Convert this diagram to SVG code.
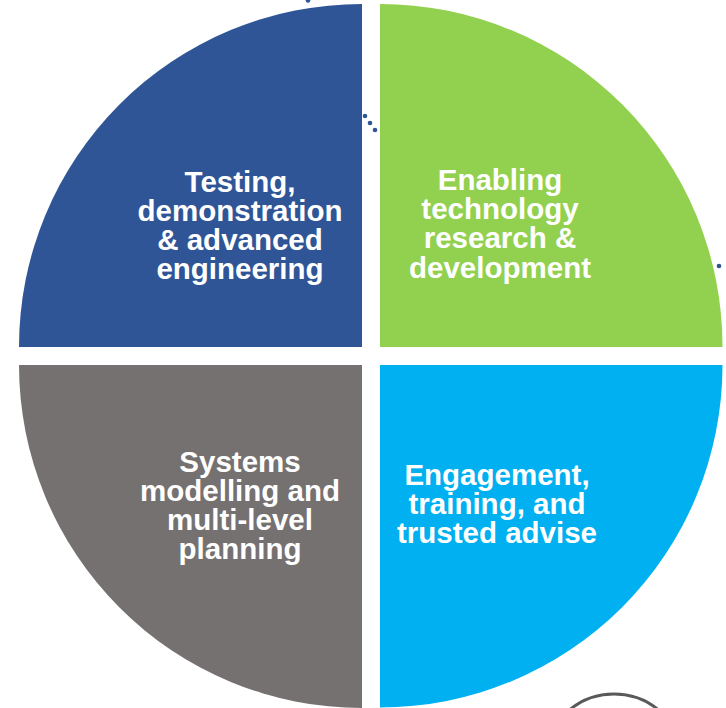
<svg xmlns="http://www.w3.org/2000/svg" width="726" height="708" viewBox="0 0 726 708">
  <style>
    .label { font-family: "Liberation Sans", Arial, sans-serif; font-weight: bold; font-size: 29.5px; fill: #FFFFFF; text-anchor: middle; }
    .dot { fill: #2F5597; }
  </style>
  <rect width="726" height="708" fill="#FFFFFF"/>

  <!-- quarter segments of the circle -->
  <g id="testing">
    <path d="M362,347 L19,347 A343,343 0 0 1 362,4 Z" fill="#2F5597"/>
    <text class="label" x="240" y="192">Testing,</text>
    <text class="label" x="240" y="221">demonstration</text>
    <text class="label" x="240" y="250">&amp; advanced</text>
    <text class="label" x="240" y="279">engineering</text>
  </g>

  <g id="enabling">
    <path d="M380,347 L380,4 A342.5,342.5 0 0 1 722.5,347 Z" fill="#92D050"/>
    <text class="label" x="500" y="190">Enabling</text>
    <text class="label" x="500" y="219">technology</text>
    <text class="label" x="500" y="248">research &amp;</text>
    <text class="label" x="500" y="278">development</text>
  </g>

  <g id="systems">
    <path d="M362,365 L362,708 A343,343 0 0 1 19,365 Z" fill="#767171"/>
    <text class="label" x="240" y="472">Systems</text>
    <text class="label" x="240" y="501">modelling and</text>
    <text class="label" x="240" y="530">multi-level</text>
    <text class="label" x="240" y="559">planning</text>
  </g>

  <g id="engagement">
    <path d="M380,365 L722.5,365 A342.5,342.5 0 0 1 380,707.5 Z" fill="#00B0F0"/>
    <text class="label" x="497" y="485">Engagement,</text>
    <text class="label" x="497" y="514">training, and</text>
    <text class="label" x="497" y="543">trusted advise</text>
  </g>

  <!-- small decorative dots -->
  <g id="dots">
    <circle class="dot" cx="308" cy="0.5" r="2.3"/>
    <circle class="dot" cx="365" cy="116" r="2.3"/>
    <circle class="dot" cx="370" cy="123" r="2.3"/>
    <circle class="dot" cx="375" cy="130" r="2.3"/>
    <circle class="dot" cx="719" cy="266" r="2.3"/>
  </g>

  <!-- ring partly visible at the lower edge -->
  <g id="ring">
    <circle cx="614" cy="764" r="70" fill="none" stroke="#595959" stroke-width="3"/>
  </g>
</svg>
